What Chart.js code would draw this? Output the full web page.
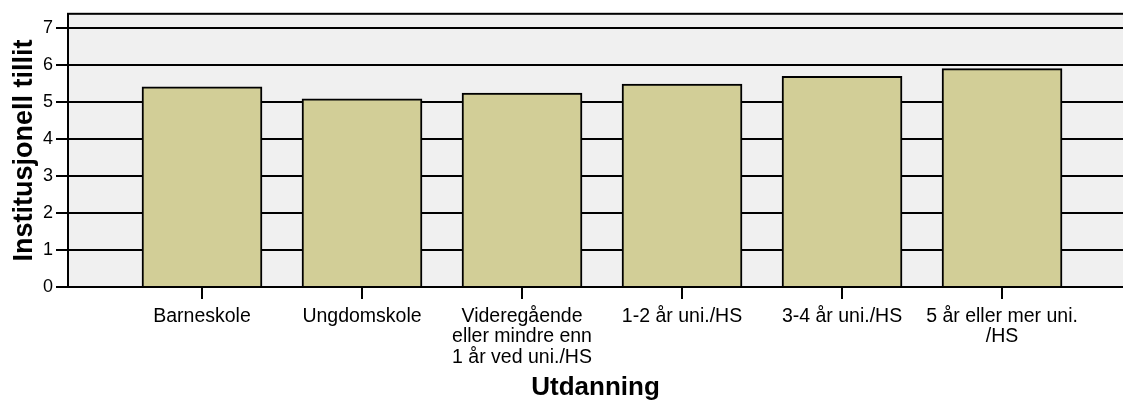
<!DOCTYPE html>
<html>
<head>
<meta charset="utf-8">
<script src="https://cdn.jsdelivr.net/npm/chart.js@4/dist/chart.umd.min.js"></script>
<style>
  html, body { margin: 0; padding: 0; background: #fff; }
  #wrap { width: 1123px; height: 405px; }
</style>
</head>
<body>
<div id="wrap"><canvas id="chart"></canvas></div>
<script>
const categories = ['Barneskole', 'Ungdomskole', 'Videregående eller mindre enn 1 år ved uni./HS',
                    '1-2 år uni./HS', '3-4 år uni./HS', '5 år eller mer uni./HS'];
const tickLabels = [
    ['Barneskole'],
    ['Ungdomskole'],
    ['Videregående', 'eller mindre enn', '1 år ved uni./HS'],
    ['1-2 år uni./HS'],
    ['3-4 år uni./HS'],
    ['5 år eller mer uni.', '/HS']
];
const tillit = [5.41, 5.08, 5.24, 5.48, 5.69, 5.90];
const yTicks = [0, 1, 2, 3, 4, 5, 6, 7];

const FONT = "'Liberation Sans', Arial, sans-serif";

// light grey plot area plus a frame around it
const plotFrame = {
    id: 'plotFrame',
    beforeDraw(chart) {
        const { ctx, chartArea: a } = chart;
        ctx.save();
        ctx.fillStyle = '#F0F0F0';
        ctx.fillRect(a.left, a.top, a.right - a.left, a.bottom - a.top);
        ctx.restore();
    },
    afterDraw(chart) {
        const { ctx, chartArea: a } = chart;
        ctx.save();
        ctx.strokeStyle = '#000';
        ctx.lineWidth = 2;
        ctx.strokeRect(a.left, a.top, a.right - a.left + 4, a.bottom - a.top);
        ctx.restore();
    }
};

new Chart(document.getElementById('chart').getContext('2d'), {
    type: 'bar',
    data: {
        datasets: [{
            label: 'Institusjonell tillit',
            data: tillit.map((v, i) => ({ x: i + 1, y: v })),
            backgroundColor: '#D2CE97',
            borderColor: '#000',
            borderWidth: 2,
            barThickness: 120
        }]
    },
    options: {
        responsive: true,
        maintainAspectRatio: false,
        animation: false,
        layout: { padding: { top: 13, left: 0, right: 0, bottom: 0 } },
        plugins: {
            legend: { display: false },
            tooltip: { enabled: false }
        },
        scales: {
            x: {
                type: 'linear',
                offset: false,
                min: 0.1625,
                max: 6.756,
                afterFit(scale) { scale.height = 118; },
                afterBuildTicks(scale) {
                    scale.ticks = categories.map((c, i) => ({ value: i + 1 }));
                },
                grid: {
                    offset: false,
                    drawOnChartArea: false,
                    drawTicks: true,
                    tickLength: 12,
                    color: '#000',
                    lineWidth: 2
                },
                border: { display: true, color: '#000', width: 2 },
                ticks: {
                    autoSkip: false,
                    maxRotation: 0,
                    padding: 7,
                    color: '#000',
                    font: { family: FONT, size: 19.5, lineHeight: 1.05 },
                    callback: (v) => tickLabels[Math.round(v) - 1] || ''
                },
                title: {
                    display: true,
                    text: 'Utdanning',
                    color: '#000',
                    padding: { top: 0, bottom: 2 },
                    font: { family: FONT, size: 26, weight: 'bold', lineHeight: 1.2 }
                }
            },
            y: {
                min: 0,
                max: 7.38,
                afterFit(scale) { scale.width = 68; },
                afterBuildTicks(scale) {
                    scale.ticks = yTicks.map(v => ({ value: v }));
                },
                grid: {
                    color: '#000',
                    lineWidth: 2,
                    tickLength: 12
                },
                border: { display: true, color: '#000', width: 2 },
                ticks: {
                    padding: 3,
                    color: '#000',
                    font: { family: FONT, size: 18 }
                },
                title: {
                    display: true,
                    text: 'Institusjonell tillit',
                    color: '#000',
                    padding: { top: 8, bottom: 0 },
                    font: { family: FONT, size: 27, weight: 'bold', lineHeight: 1.2 }
                }
            }
        }
    },
    plugins: [plotFrame]
});
</script>
</body>
</html>
